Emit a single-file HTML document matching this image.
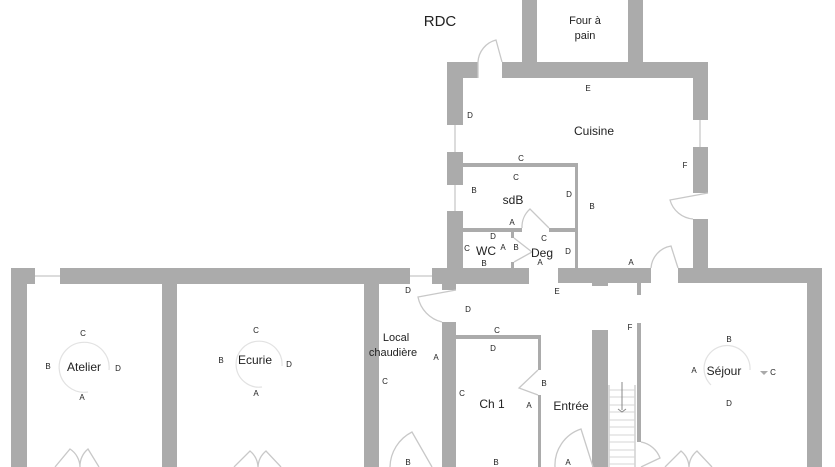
<!DOCTYPE html>
<html><head><meta charset="utf-8"><style>
html,body{margin:0;padding:0;background:#fff;}
svg{display:block;}
text{font-family:"Liberation Sans",sans-serif;fill:#222;}
.s{font-size:8px;text-anchor:middle;}
.r{font-size:12px;text-anchor:middle;}
</style></head><body>
<svg width="835" height="467" viewBox="0 0 835 467" xmlns="http://www.w3.org/2000/svg">
<g fill="#ababab">
<rect x="522" y="0" width="15" height="62"/>
<rect x="628" y="0" width="15" height="62"/>
<rect x="447" y="62" width="31" height="16"/>
<rect x="502" y="62" width="206" height="16"/>
<rect x="447" y="62" width="16" height="63"/>
<rect x="447" y="152" width="16" height="33"/>
<rect x="447" y="211" width="16" height="72"/>
<rect x="693" y="62" width="15" height="58"/>
<rect x="693" y="147" width="15" height="46"/>
<rect x="693" y="219" width="15" height="64"/>
<rect x="463" y="163" width="115" height="4"/>
<rect x="575" y="163" width="3" height="105"/>
<rect x="463" y="228" width="59" height="4"/>
<rect x="549" y="228" width="26" height="4"/>
<rect x="511" y="232" width="3" height="6"/>
<rect x="511" y="262" width="3" height="6"/>
<rect x="11" y="268" width="24" height="16"/>
<rect x="60" y="268" width="350" height="16"/>
<rect x="432" y="268" width="97" height="16"/>
<rect x="558" y="268" width="93" height="15"/>
<rect x="678" y="268" width="144" height="15"/>
<rect x="11" y="268" width="16" height="199"/>
<rect x="162" y="268" width="15" height="199"/>
<rect x="364" y="268" width="15" height="199"/>
<rect x="442" y="283" width="14" height="7"/>
<rect x="442" y="322" width="14" height="145"/>
<rect x="456" y="335" width="85" height="4"/>
<rect x="538" y="335" width="3" height="35"/>
<rect x="538" y="395" width="3" height="72"/>
<rect x="592" y="283" width="16" height="3"/>
<rect x="592" y="330" width="16" height="137"/>
<rect x="637" y="283" width="4" height="12"/>
<rect x="637" y="323" width="4" height="119"/>
<rect x="807" y="268" width="15" height="199"/>
</g>
<g fill="none" stroke="#c8c8c8" stroke-width="1.3">
<line x1="35" y1="276" x2="60" y2="276"/>
<line x1="410" y1="276" x2="432" y2="276"/>
<line x1="455" y1="125" x2="455" y2="152"/>
<line x1="455" y1="185" x2="455" y2="211"/>
<line x1="700" y1="120" x2="700" y2="147"/>
<path d="M478 78 L478 62 A24 24 0 0 1 496 40 L502 62"/>
<path d="M708 193 L670 200 A26 26 0 0 0 693 219"/>
<path d="M651 268 A24 24 0 0 1 671 246 L678 268"/>
<path d="M522 228 A24 24 0 0 1 530 209 L549 228"/>
<path d="M514 238 L532 252 L514 262"/>
<path d="M456 290 L418 297 A32 32 0 0 0 442 322"/>
<path d="M538 370 L519 388 L538 395"/>
<path d="M432 467 L412 432 A40 40 0 0 0 390 467"/>
<path d="M593 467 L581 429 A38 38 0 0 0 555 467"/>
<path d="M641 442 A25 25 0 0 1 660 458 L641 467"/>
<path d="M55 467 L70 449 A22 22 0 0 1 80 467 M80 467 A22 22 0 0 1 88 449 L99 467"/>
<path d="M234 467 L250 451 A22 22 0 0 1 258 467 M258 467 A22 22 0 0 1 266 451 L281 467"/>
<path d="M665 467 L681 451 A22 22 0 0 1 689 467 M689 467 A22 22 0 0 1 697 451 L712 467"/>
<line x1="609" y1="385" x2="609" y2="467"/>
<line x1="635" y1="385" x2="635" y2="467"/>
</g>
<g fill="none" stroke="#e2e2e2" stroke-width="1.2">
<path d="M88 392 A25 25 0 1 1 109 370"/>
<path d="M262 387 A23 23 0 1 1 282 366"/>
<path d="M711 385 A23 23 0 1 1 750 370"/>
</g>
<g stroke="#d4d4d4" stroke-width="1">
<line x1="609" y1="390" x2="635" y2="390"/><line x1="609" y1="397" x2="635" y2="397"/>
<line x1="609" y1="405" x2="635" y2="405"/><line x1="609" y1="412" x2="635" y2="412"/>
<line x1="609" y1="420" x2="635" y2="420"/><line x1="609" y1="427" x2="635" y2="427"/>
<line x1="609" y1="435" x2="635" y2="435"/><line x1="609" y1="442" x2="635" y2="442"/>
<line x1="609" y1="450" x2="635" y2="450"/><line x1="609" y1="457" x2="635" y2="457"/>
<line x1="609" y1="464" x2="635" y2="464"/>
<line x1="622" y1="382" x2="622" y2="410" stroke="#888"/>
<path d="M618 409 L622 412 L626 409" fill="none" stroke="#888"/>
</g>
<path d="M760 371 L768 371 L764 375Z" fill="#aaa"/>
<text x="440" y="26" style="font-size:15px;text-anchor:middle">RDC</text>
<text class="r" x="585" y="24" style="font-size:11px">Four à</text>
<text class="r" x="585" y="39" style="font-size:11px">pain</text>
<text class="s" x="588" y="91">E</text>
<text class="s" x="470" y="118">D</text>
<text class="r" x="594" y="135">Cuisine</text>
<text class="s" x="521" y="161">C</text>
<text class="s" x="516" y="180">C</text>
<text class="s" x="474" y="193">B</text>
<text class="r" x="513" y="204">sdB</text>
<text class="s" x="569" y="197">D</text>
<text class="s" x="592" y="209">B</text>
<text class="s" x="685" y="168">F</text>
<text class="s" x="512" y="225">A</text>
<text class="s" x="493" y="239">D</text>
<text class="s" x="467" y="251">C</text>
<text class="r" x="486" y="255">WC</text>
<text class="s" x="503" y="250">A</text>
<text class="s" x="516" y="250">B</text>
<text class="s" x="544" y="241">C</text>
<text class="r" x="542" y="257">Deg</text>
<text class="s" x="568" y="254">D</text>
<text class="s" x="484" y="266">B</text>
<text class="s" x="540" y="265">A</text>
<text class="s" x="631" y="265">A</text>
<text class="s" x="557" y="294">E</text>
<text class="s" x="408" y="293">D</text>
<text class="s" x="468" y="312">D</text>
<text class="s" x="497" y="333">C</text>
<text class="s" x="493" y="351">D</text>
<text class="r" x="396" y="341" style="font-size:11px">Local</text>
<text class="r" x="393" y="356" style="font-size:11px">chaudière</text>
<text class="s" x="436" y="360">A</text>
<text class="s" x="385" y="384">C</text>
<text class="s" x="462" y="396">C</text>
<text class="r" x="492" y="408">Ch 1</text>
<text class="s" x="529" y="408">A</text>
<text class="s" x="544" y="386">B</text>
<text class="r" x="571" y="410">Entrée</text>
<text class="s" x="630" y="330">F</text>
<text class="s" x="729" y="342">B</text>
<text class="s" x="694" y="373">A</text>
<text class="r" x="724" y="375">Séjour</text>
<text class="s" x="773" y="375">C</text>
<text class="s" x="729" y="406">D</text>
<text class="s" x="83" y="336">C</text>
<text class="s" x="48" y="369">B</text>
<text class="r" x="84" y="371">Atelier</text>
<text class="s" x="118" y="371">D</text>
<text class="s" x="82" y="400">A</text>
<text class="s" x="256" y="333">C</text>
<text class="s" x="221" y="363">B</text>
<text class="r" x="255" y="364">Ecurie</text>
<text class="s" x="289" y="367">D</text>
<text class="s" x="256" y="396">A</text>
<text class="s" x="408" y="465">B</text>
<text class="s" x="496" y="465">B</text>
<text class="s" x="568" y="465">A</text>
</svg>
</body></html>
